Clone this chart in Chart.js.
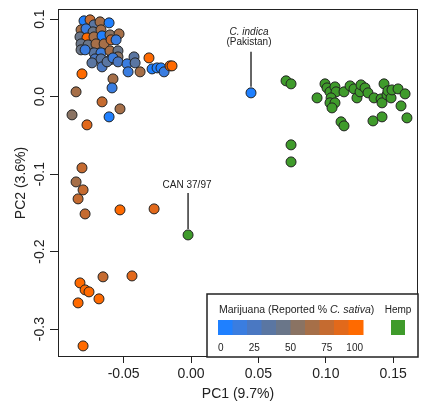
<!DOCTYPE html>
<html>
<head>
<meta charset="utf-8">
<script src="https://cdn.jsdelivr.net/npm/chart.js@4"></script>
<style>
  html, body { margin: 0; padding: 0; background: #fff; }
  #wrap { width: 430px; height: 405px; }
</style>
</head>
<body>
<div id="wrap"><canvas id="pca"></canvas></div>
<script>
// PCA of marijuana vs hemp samples

const FONT = "'Liberation Sans', Arial, Helvetica, sans-serif";
const INK = '#222';
const HEMP_COLOR = '#3f9b2b';
// 10 steps, 0% sativa (blue) -> 100% sativa (orange)
const SATIVA_STEPS = ['#1f80ff', '#3a7de0', '#4a78c2', '#5a76a2', '#6a7689',
                      '#8a7363', '#a66f48', '#c56b30', '#e2691b', '#ff6a00'];

const X_TICKS = [-0.05, 0, 0.05, 0.10, 0.15];
const Y_TICKS = [0.1, 0.0, -0.1, -0.2, -0.3];
const LEGEND_TICKS = [0, 25, 50, 75, 100];

// marijuana samples
const mjPC1 = [
  -0.0794, -0.0749, -0.0720, -0.0675, -0.0608, -0.0816, -0.0779, -0.0727, -0.0668, -0.0824,
  -0.0772, -0.0720, -0.0660, -0.0601, -0.0534, -0.0816, -0.0764, -0.0705, -0.0645, -0.0593,
  -0.0556, -0.0816, -0.0720, -0.0668, -0.0601, -0.0542, -0.0542, -0.0712, -0.0668, -0.0601,
  -0.0735, -0.0660, -0.0623, -0.0579, -0.0542, -0.0475, -0.0423, -0.0415, -0.0467, -0.0378,
  -0.0312, -0.0289, -0.0252, -0.0223, -0.0200, -0.0156, -0.0141, -0.0786, -0.0809, -0.0579,
  -0.0586, -0.0853, -0.0660, -0.0527, -0.0883, -0.0608, -0.0772, -0.0809, -0.0853, -0.0801,
  -0.0838, -0.0786, -0.0527, -0.0274, -0.0653, -0.0438, -0.0824, -0.0786, -0.0757, -0.0838,
  -0.0683, -0.0801,
];
const mjPC2 = [
  0.0977, 0.0990, 0.0925, 0.0964, 0.0951, 0.0861, 0.0874, 0.0835, 0.0861, 0.0770,
  0.0757, 0.0770, 0.0783, 0.0796, 0.0809, 0.0680, 0.0667, 0.0680, 0.0680, 0.0732,
  0.0732, 0.0603, 0.0564, 0.0564, 0.0590, 0.0590, 0.0512, 0.0486, 0.0486, 0.0474,
  0.0435, 0.0383, 0.0448, 0.0499, 0.0448, 0.0422, 0.0512, 0.0435, 0.0319, 0.0319,
  0.0499, 0.0357, 0.0370, 0.0370, 0.0319, 0.0396, 0.0396, 0.0603, 0.0293, 0.0228,
  0.0112, 0.0061, -0.0068, -0.0159, -0.0236, -0.0262, -0.0365, -0.0920, -0.1101, -0.1204,
  -0.1320, -0.1514, -0.1462, -0.1449, -0.2326, -0.2314, -0.2404, -0.2494, -0.2520, -0.2662,
  -0.2610, -0.3217,
];
const mjSativa = [
  5, 75, 35, 65, 5, 65, 10, 45, 65, 45,
  90, 65, 5, 55, 60, 45, 45, 65, 65, 75,
  10, 45, 35, 15, 65, 45, 55, 25, 30, 45,
  35, 25, 35, 10, 25, 10, 35, 30, 10, 65,
  90, 5, 5, 5, 10, 90, 95, 10, 90, 65,
  15, 65, 70, 60, 55, 5, 85, 70, 65, 75,
  75, 75, 90, 85, 70, 85, 90, 90, 90, 95,
  90, 95,
];

// hemp samples
const hempPC1 = [
  0.0705, 0.0742, 0.0935, 0.0994, 0.1009, 0.1031, 0.1068, 0.1076, 0.1135, 0.1180,
  0.1209, 0.1231, 0.1254, 0.1261, 0.1291, 0.1313, 0.1039, 0.1031, 0.1068, 0.1046,
  0.1113, 0.1135, 0.1358, 0.1410, 0.1417, 0.1432, 0.1454, 0.1461, 0.1484, 0.1491,
  0.1536, 0.1588, 0.1558, 0.1350, 0.1417, 0.1602, 0.0742, 0.0742,
];
const hempPC2 = [
  0.0203, 0.0164, -0.0017, 0.0164, 0.0112, 0.0061, 0.0125, 0.0061, 0.0061, 0.0138,
  0.0099, -0.0017, 0.0061, 0.0151, 0.0112, 0.0048, -0.0017, -0.0081, -0.0081, -0.0146,
  -0.0326, -0.0378, -0.0017, -0.0030, -0.0081, 0.0164, 0.0022, 0.0074, -0.0017, 0.0086,
  0.0099, 0.0035, -0.0120, -0.0314, -0.0262, -0.0275, -0.0623, -0.0843,
];

// labelled samples
const INDICA = { pc1: 0.0445, pc2: 0.0048, sativa: 0 };
const CAN3797 = { pc1: -0.0022, pc2: -0.1785 };

function sativaColor(s) {
  return SATIVA_STEPS[Math.min(9, Math.floor(s / 10))];
}

const mjPoints = mjPC1.map((x, i) => ({ x, y: mjPC2[i], s: mjSativa[i] }));
mjPoints.push({ x: INDICA.pc1, y: INDICA.pc2, s: INDICA.sativa });
const hempPoints = hempPC1.map((x, i) => ({ x, y: hempPC2[i] }));
hempPoints.push({ x: CAN3797.pc1, y: CAN3797.pc2 });

function fixedTicks(list) {
  return (scale) => { scale.ticks = list.map((v) => ({ value: v })); };
}

const overlay = {
  id: 'overlay',
  afterDraw(chart) {
    const { ctx, chartArea: a, scales: { x, y } } = chart;
    ctx.save();

    // frame
    ctx.strokeStyle = INK;
    ctx.lineWidth = 1;
    ctx.strokeRect(Math.round(a.left) + 0.5, Math.round(a.top) + 0.5,
      Math.round(a.right - a.left) - 1, Math.round(a.bottom - a.top) - 1);

    // y tick labels, rotated like R
    ctx.fillStyle = INK;
    ctx.font = `14px ${FONT}`;
    ctx.textAlign = 'center';
    ctx.textBaseline = 'middle';
    y.ticks.forEach((t) => {
      ctx.save();
      ctx.translate(40, y.getPixelForValue(t.value));
      ctx.rotate(-Math.PI / 2);
      ctx.fillText(t.value.toFixed(1), 0, 0);
      ctx.restore();
    });

    // callouts
    ctx.lineWidth = 1.5;
    ctx.strokeStyle = '#333';
    const ix = x.getPixelForValue(INDICA.pc1), iy = y.getPixelForValue(INDICA.pc2);
    ctx.beginPath(); ctx.moveTo(ix, iy - 6); ctx.lineTo(ix, iy - 41); ctx.stroke();
    ctx.font = `italic 10px ${FONT}`;
    ctx.textBaseline = 'alphabetic';
    ctx.fillText('C. indica', ix - 2, iy - 58);
    ctx.font = `10px ${FONT}`;
    ctx.fillText('(Pakistan)', ix - 2, iy - 48);

    const cx = x.getPixelForValue(CAN3797.pc1), cy = y.getPixelForValue(CAN3797.pc2);
    ctx.beginPath(); ctx.moveTo(cx, cy - 6); ctx.lineTo(cx, cy - 42); ctx.stroke();
    ctx.fillText('CAN 37/97', cx - 1, cy - 47);

    // colour-scale legend in the lower right corner
    const L = 207, T = 294, R = a.right, B = a.bottom;
    ctx.fillStyle = '#fff';
    ctx.fillRect(L, T, R - L, B - T);
    ctx.strokeStyle = INK;
    ctx.lineWidth = 1.5;
    ctx.strokeRect(L, T, R - L, B - T);

    ctx.fillStyle = INK;
    ctx.textAlign = 'left';
    let tx = 219;
    const parts = [['Marijuana (Reported % ', ''], ['C. sativa', 'italic '], [')', '']];
    parts.forEach(([txt, st]) => {
      ctx.font = `${st}10.5px ${FONT}`;
      ctx.fillText(txt, tx, 313);
      tx += ctx.measureText(txt).width;
    });
    ctx.textAlign = 'center';
    ctx.font = `10px ${FONT}`;
    ctx.fillText('Hemp', 398, 313);

    const barL = 218, barW = 145, step = barW / SATIVA_STEPS.length;
    SATIVA_STEPS.forEach((c, i) => {
      ctx.fillStyle = c;
      ctx.fillRect(barL + i * step, 320, step + 0.5, 15);
    });
    ctx.fillStyle = HEMP_COLOR;
    ctx.fillRect(391, 320, 14, 15);

    ctx.fillStyle = INK;
    ctx.font = `10px ${FONT}`;
    LEGEND_TICKS.forEach((v, i) => {
      const px = barL + (v / 100) * barW;
      ctx.textAlign = i === 0 ? 'left' : (i === LEGEND_TICKS.length - 1 ? 'right' : 'center');
      ctx.fillText(String(v), px, 351);
    });

    ctx.restore();
  },
};

new Chart(document.getElementById('pca'), {
  type: 'scatter',
  data: {
    datasets: [
      {
        data: mjPoints,
        backgroundColor: mjPoints.map((p) => sativaColor(p.s)),
        borderColor: INK,
        borderWidth: 1,
        pointRadius: 5,
      },
      {
        data: hempPoints,
        backgroundColor: HEMP_COLOR,
        borderColor: INK,
        borderWidth: 1,
        pointRadius: 5,
      },
    ],
  },
  options: {
    responsive: true,
    maintainAspectRatio: false,
    animation: false,
    layout: { padding: { top: 9, right: 12, left: 0, bottom: 0 } },
    plugins: { legend: { display: false }, tooltip: { enabled: false } },
    scales: {
      x: {
        type: 'linear',
        min: -0.0987,
        max: 0.1684,
        afterBuildTicks: fixedTicks(X_TICKS),
        afterFit: (s) => { s.height = 48; },
        grid: { drawOnChartArea: false, drawTicks: true, tickLength: 6, color: INK },
        border: { display: false },
        ticks: {
          color: INK,
          padding: 3,
          font: { family: FONT, size: 14 },
          callback: (v) => Number(v).toFixed(2),
        },
        title: {
          display: true,
          text: 'PC1 (9.7%)',
          color: INK,
          font: { family: FONT, size: 14 },
          padding: { top: 0, bottom: 2 },
        },
      },
      y: {
        type: 'linear',
        min: -0.336,
        max: 0.113,
        afterBuildTicks: fixedTicks(Y_TICKS),
        afterFit: (s) => { s.width = 58; },
        grid: { drawOnChartArea: false, drawTicks: true, tickLength: 8, color: INK },
        border: { display: false },
        ticks: { display: false },
        title: {
          display: true,
          text: 'PC2 (3.6%)',
          color: INK,
          font: { family: FONT, size: 14 },
          padding: { top: 13, bottom: 0 },
        },
      },
    },
  },
  plugins: [overlay],
});
</script>
</body>
</html>
